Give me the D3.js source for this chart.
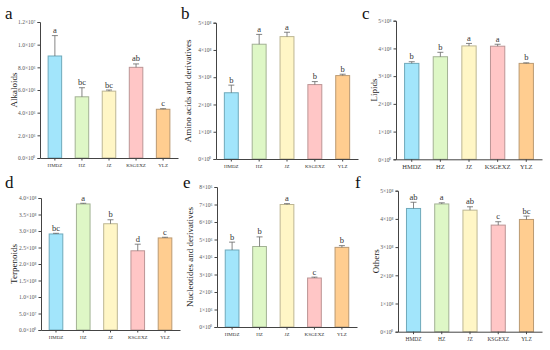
<!DOCTYPE html>
<html>
<head>
<meta charset="utf-8">
<script src="https://cdn.jsdelivr.net/npm/d3@7"></script>
<style>
  html, body { margin: 0; padding: 0; background: #fff; }
  svg { display: block; font-family: "Liberation Serif", "DejaVu Serif", serif; }
</style>
</head>
<body>
<svg id="chart" width="550" height="350"></svg>
<script>
// Metabolite class abundance per origin, six panels (a–f)

const categories = ['HMDZ', 'HZ', 'JZ', 'KSGEXZ', 'YLZ'];

const alkaloidsMean = [9.0e6, 5.4e6, 5.9e6, 8.0e6, 4.3e6];
const alkaloidsSd   = [1.8e6, 0.8e6, 0.1e6, 0.3e6, 0.05e6];
const alkaloidsSig  = ['a', 'bc', 'bc', 'ab', 'c'];
const alkaloidsTicks = [0, 2e6, 4e6, 6e6, 8e6, 1e7, 1.2e7];

const aminoMean = [2.43e8, 4.21e8, 4.49e8, 2.73e8, 3.06e8];
const aminoSd   = [0.28e8, 0.36e8, 0.16e8, 0.11e8, 0.05e8];
const aminoSig  = ['b', 'a', 'a', 'b', 'b'];
const aminoTicks = [0, 1e8, 2e8, 3e8, 4e8, 5e8];

const lipidsMean = [3.46e8, 3.70e8, 4.09e8, 4.08e8, 3.46e8];
const lipidsSd   = [0.06e8, 0.16e8, 0.09e8, 0.07e8, 0.02e8];
const lipidsSig  = ['b', 'b', 'a', 'a', 'b'];
const lipidsTicks = [0, 1e8, 2e8, 3e8, 4e8, 5e8];

const terpMean = [2.91e8, 3.82e8, 3.22e8, 2.40e8, 2.79e8];
const terpSd   = [0.02e8, 0.02e8, 0.12e8, 0.20e8, 0.02e8];
const terpSig  = ['bc', 'a', 'b', 'd', 'c'];
const terpTicks = [0, 5e7, 1e8, 1.5e8, 2e8, 2.5e8, 3e8, 3.5e8, 4e8];

const nucMean = [4.4e6, 4.6e6, 7.0e6, 2.8e6, 4.55e6];
const nucSd   = [0.45e6, 0.55e6, 0.05e6, 0.05e6, 0.1e6];
const nucSig  = ['b', 'b', 'a', 'c', 'b'];
const nucTicks = [0, 1e6, 2e6, 3e6, 4e6, 5e6, 6e6, 7e6, 8e6];

const othersMean = [4.37e8, 4.53e8, 4.31e8, 3.78e8, 3.98e8];
const othersSd   = [0.22e8, 0.04e8, 0.12e8, 0.12e8, 0.12e8];
const othersSig  = ['ab', 'a', 'ab', 'c', 'bc'];
const othersTicks = [0, 1e8, 2e8, 3e8, 4e8, 5e8];

const FILL   = ['#a2e5fb', '#def7c6', '#fff6c6', '#ffc6c6', '#ffcd90'];
const STROKE = ['#6fa9bb', '#a3b294', '#bdb693', '#bc9595', '#bb9a72'];

const SUP = { '0': '⁰', '1': '¹', '2': '²', '3': '³', '4': '⁴', '5': '⁵', '6': '⁶', '7': '⁷', '8': '⁸', '9': '⁹' };
const sup = n => String(n).split('').map(c => SUP[c]).join('');

function sci(v, dec) {
  if (v === 0) return (dec ? (0).toFixed(dec) : '0') + '×10⁰';
  const e = Math.floor(Math.log10(v) + 1e-9);
  return (v / Math.pow(10, e)).toFixed(dec) + '×10' + sup(e);
}

// panel layout: axis origin / extent in page pixels
const panels = [
  { key: 'a', label: 'Alkaloids', mean: alkaloidsMean, sd: alkaloidsSd, sig: alkaloidsSig, ticks: alkaloidsTicks, dec: 1,
    x0: 40, x1: 178, yTop: 22, yBot: 158, lx: 5, ly: 19, yl: 14, xfs: 5 },
  { key: 'b', label: 'Amino acids and derivatives', mean: aminoMean, sd: aminoSd, sig: aminoSig, ticks: aminoTicks, dec: 0,
    x0: 216, x1: 358, yTop: 22.7, yBot: 159, lx: 181, ly: 19, yl: 188, xfs: 5 },
  { key: 'c', label: 'Lipids', mean: lipidsMean, sd: lipidsSd, sig: lipidsSig, ticks: lipidsTicks, dec: 0,
    x0: 396, x1: 542, yTop: 20.7, yBot: 159.3, lx: 362, ly: 19, yl: 374, xfs: 6.5 },
  { key: 'd', label: 'Terpenoids', mean: terpMean, sd: terpSd, sig: terpSig, ticks: terpTicks, dec: 1,
    x0: 41, x1: 180, yTop: 198, yBot: 330, lx: 5, ly: 188, yl: 14, xfs: 5 },
  { key: 'e', label: 'Nucleotides and derivatives', mean: nucMean, sd: nucSd, sig: nucSig, ticks: nucTicks, dec: 0,
    x0: 217, x1: 357, yTop: 187, yBot: 327, lx: 183, ly: 188, yl: 190, xfs: 5 },
  { key: 'f', label: 'Others', mean: othersMean, sd: othersSd, sig: othersSig, ticks: othersTicks, dec: 0,
    x0: 398, x1: 542, yTop: 190.7, yBot: 331.7, lx: 355, ly: 188, yl: 376, xfs: 5.5 }
];

const svg = d3.select('#chart');
const AX = '#444';

panels.forEach(p => {
  const g = svg.append('g');
  const x = d3.scaleBand().domain(categories).range([p.x0, p.x1]).paddingInner(0.5).paddingOuter(0.3);
  const y = d3.scaleLinear().domain([0, d3.max(p.ticks)]).range([p.yBot, p.yTop]);

  // bars
  g.selectAll('.bar').data(categories).enter().append('rect')
    .attr('x', d => x(d))
    .attr('y', (d, i) => y(p.mean[i]))
    .attr('width', x.bandwidth())
    .attr('height', (d, i) => p.yBot - y(p.mean[i]))
    .attr('fill', (_, i) => FILL[i])
    .attr('stroke', (_, i) => STROKE[i])
    .attr('stroke-width', 1);

  // error bars (upper only)
  categories.forEach((c, i) => {
    const cx = x(c) + x.bandwidth() / 2;
    const top = y(p.mean[i] + p.sd[i]);
    g.append('line').attr('x1', cx).attr('x2', cx).attr('y1', y(p.mean[i])).attr('y2', top)
      .attr('stroke', '#666').attr('stroke-width', 0.8);
    g.append('line').attr('x1', cx - 3).attr('x2', cx + 3).attr('y1', top).attr('y2', top)
      .attr('stroke', '#666').attr('stroke-width', 0.8);
    g.append('text').attr('x', cx).attr('y', top - 2.5)
      .attr('text-anchor', 'middle').attr('font-size', 8.5).attr('fill', '#333')
      .text(p.sig[i]);
  });

  // y axis
  g.append('g').attr('transform', `translate(${p.x0},0)`)
    .call(d3.axisLeft(y).tickValues(p.ticks).tickSize(2.5).tickPadding(2).tickFormat(v => sci(v, p.dec)))
    .call(a => {
      a.select('.domain').attr('stroke', AX).attr('stroke-width', 1);
      a.selectAll('line').attr('stroke', AX);
      a.selectAll('text').attr('font-size', 5.5).attr('fill', '#555').attr('font-family', 'Liberation Serif');
    });

  // x axis
  g.append('g').attr('transform', `translate(0,${p.yBot})`)
    .call(d3.axisBottom(x).tickSize(2.5).tickSizeOuter(0).tickPadding(3))
    .call(a => {
      a.select('.domain').attr('stroke', AX).attr('stroke-width', 1);
      a.selectAll('line').attr('stroke', AX);
      a.selectAll('text').attr('font-size', p.xfs).attr('fill', '#333').attr('font-family', 'Liberation Serif');
    });

  // y label
  g.append('text')
    .attr('transform', `translate(${p.yl},${(p.yTop + p.yBot) / 2}) rotate(-90)`)
    .attr('text-anchor', 'middle').attr('dy', '0.35em')
    .attr('font-size', 9).attr('fill', '#222')
    .text(p.label);

  // panel letter
  g.append('text').attr('x', p.lx).attr('y', p.ly)
    .attr('font-size', 17).attr('fill', '#111')
    .text(p.key);
});
</script>
</body>
</html>
